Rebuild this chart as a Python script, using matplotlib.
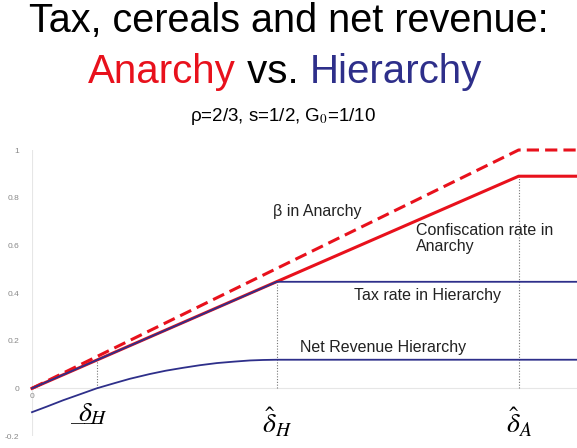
import matplotlib
matplotlib.use("Agg")
import matplotlib.pyplot as plt

# ── Data (x in units where delta_hat_A = 1) ─────────────────────
delta_low_h = 0.133
delta_hat_h = 0.503
delta_hat_a = 1.0
x_max = 1.12

beta_x = [0.0, delta_hat_a, x_max]
beta_y = [0.0, 1.0, 1.0]

confisc_x = [0.0, delta_hat_a, x_max]
confisc_y = [0.0, 0.89, 0.89]

tax_x = [0.0, delta_hat_h, x_max]
tax_y = [0.0, 0.447, 0.447]

net_x = [0.0, 0.03, 0.064, 0.1, 0.133, 0.17, 0.201, 0.242, 0.275, 0.31,
         0.345, 0.38, 0.415, 0.448, 0.475, 0.503, x_max]
net_y = [-0.10, -0.077, -0.05, -0.024, 0.0, 0.022, 0.04, 0.06, 0.074, 0.086,
         0.097, 0.106, 0.112, 0.117, 0.119, 0.12, 0.12]

yticks = [-0.2, 0, 0.2, 0.4, 0.6, 0.8, 1]
ytick_labels = ["-0.2", "0", "0.2", "0.4", "0.6", "0.8", "1"]

RED = "#e8111c"
BLUE = "#2e2f8a"

plt.rcParams["font.family"] = ["Liberation Sans", "DejaVu Sans"]
plt.rcParams["mathtext.fontset"] = "stix"

fig = plt.figure(figsize=(5.77, 4.48), dpi=100)
ax = fig.add_axes([32 / 577, 12 / 448, 545 / 577, 286 / 448])

# ── Curves ───────────────────────────────────────────────────────
ax.plot(confisc_x, confisc_y, color=RED, lw=2.2, clip_on=False, zorder=3)
ax.plot(beta_x, beta_y, color=RED, lw=2.2, ls=(0, (4, 2)), clip_on=False, zorder=3)
ax.plot(tax_x, tax_y, color=BLUE, lw=1.3, clip_on=False, zorder=4)
ax.plot(net_x, net_y, color=BLUE, lw=1.3, clip_on=False, zorder=4)

# dotted guides
guide = dict(color="#777777", lw=0.8, ls=(0, (1, 1.5)))
ax.vlines(delta_low_h, 0, tax_y[1] / delta_hat_h * delta_low_h, **guide)
ax.vlines(delta_hat_h, 0, tax_y[1], **guide)
ax.vlines(delta_hat_a, 0, confisc_y[1], **guide)

# faint axes
ax.axhline(0, color="#e6e6e6", lw=0.8, zorder=1)
ax.axvline(0, color="#e6e6e6", lw=0.8, zorder=1)

ax.set_xlim(0, x_max)
ax.set_ylim(-0.2, 1.0)
for s in ax.spines.values():
    s.set_visible(False)
ax.set_xticks([])
ax.set_yticks(yticks)
ax.set_yticklabels(ytick_labels, fontsize=6, color="#888888")
ax.tick_params(axis="y", length=0, pad=9)
ax.text(0, -0.02, "0", fontsize=6, color="#888888", ha="center", va="top")

# ── Curve labels ─────────────────────────────────────────────────
lab = dict(fontsize=11.5, color="#222222")
ax.text(0.495, 0.74, "β in Anarchy", va="center", **lab)
ax.text(0.789, 0.628, "Confiscation rate in\nAnarchy", va="center",
        linespacing=1.05, **lab)
ax.text(0.661, 0.39, "Tax rate in Hierarchy", va="center", **lab)
ax.text(0.55, 0.17, "Net Revenue Hierarchy", va="center", **lab)

# ── Threshold labels ─────────────────────────────────────────────
ax.text(delta_low_h - 0.015, -0.108, r"$\_\!\!\_\!\!\_\!\!\!\!\!\!\delta_H$",
        fontsize=20, ha="center", va="center")
ax.text(delta_hat_h, -0.145, r"$\hat{\delta}_H$", fontsize=20, ha="center", va="center")
ax.text(delta_hat_a, -0.145, r"$\hat{\delta}_A$", fontsize=20, ha="center", va="center")

# ── Titles ───────────────────────────────────────────────────────
fig.text(0.5, 0.929, "Tax, cereals and net revenue:", fontsize=28.5,
         ha="center", va="baseline")
t1 = fig.text(88 / 577, 0.815, "Anarchy", fontsize=29, color=RED, va="baseline")
t2 = fig.text(0, 0, " vs. ", fontsize=29, color="black")
t3 = fig.text(0, 0, "Hierarchy", fontsize=29, color=BLUE)
fig.canvas.draw()
r = fig.canvas.get_renderer()
x = t1.get_window_extent(r).x1 / fig.bbox.width
t2.set_position((x, 0.815))
t2.set_va("baseline")
fig.canvas.draw()
x = t2.get_window_extent(r).x1 / fig.bbox.width
t3.set_position((x, 0.815))
t3.set_va("baseline")

fig.text(0.49, 0.730, "ρ=2/3, s=1/2, G$_0$=1/10", fontsize=13.5,
         ha="center", va="baseline")

fig.savefig("out.png", dpi=100)
